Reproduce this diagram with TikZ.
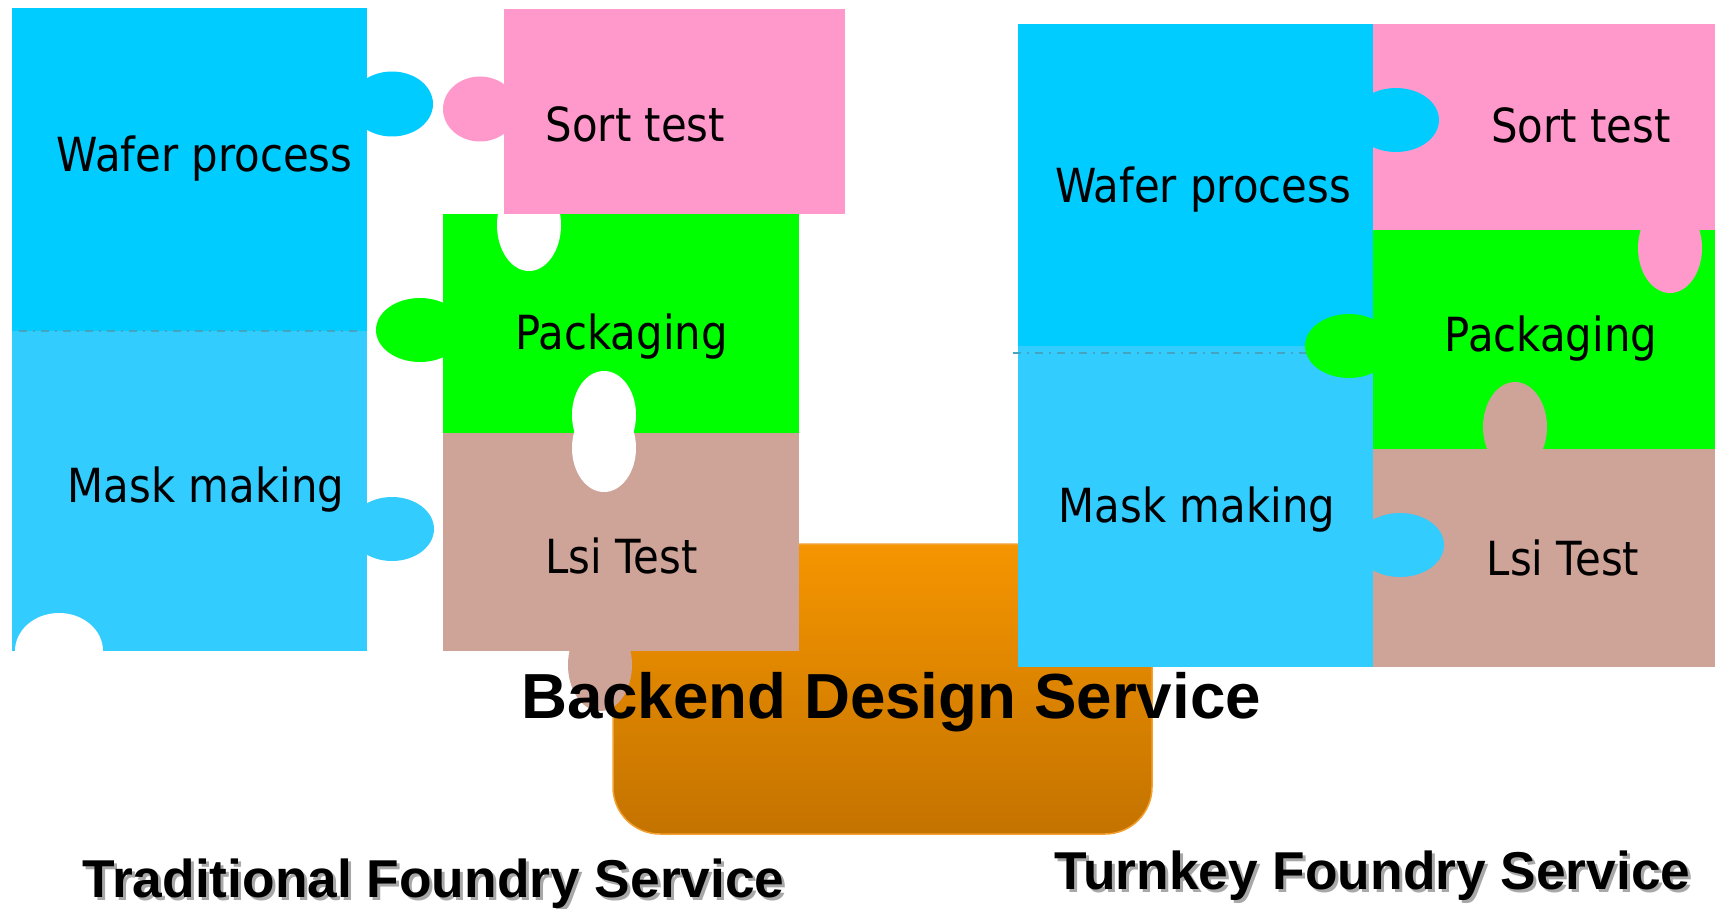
\documentclass[tikz,border=0pt]{standalone}
\usepackage{fontspec}
\newfontfamily\tahf[FakeStretch=0.89]{DejaVu Sans}
\newfontfamily\arialf{Liberation Sans}
\definecolor{waferc}{HTML}{00CCFF}
\definecolor{maskc}{HTML}{33CCFF}
\definecolor{pinkc}{HTML}{FF99CC}
\definecolor{greenc}{HTML}{00FF00}
\definecolor{brownc}{HTML}{CEA398}
\definecolor{orangetop}{HTML}{F59500}
\definecolor{orangebot}{HTML}{C47300}
\definecolor{orangeedge}{HTML}{F2A030}
\definecolor{dashc}{HTML}{45A5C0}
\definecolor{shadowc}{HTML}{A8A8A8}
\begin{document}
\begin{tikzpicture}[x=1pt,y=-1pt,
  lbl/.style={font=\tahf\fontsize{47}{50}\selectfont, anchor=base, inner sep=0pt, text=black},
  bigbold/.style={font=\arialf\bfseries\fontsize{63.7}{66}\selectfont, anchor=base, inner sep=0pt, text=black},
  title/.style={font=\arialf\bfseries\fontsize{53.3}{56}\selectfont, anchor=base, inner sep=0pt},
  seam/.style={draw=dashc, line width=2pt, dash pattern=on 8pt off 5.5pt on 2pt off 6.5pt}]
\useasboundingbox (0,0) rectangle (1715,909);
\fill[white] (0,0) rectangle (1715,909);

% Backend design box
\shade[top color=orangetop, bottom color=orangebot, rounded corners=47pt]
  (613,544) rectangle (1152,834);
\draw[orangeedge, line width=1.5pt, rounded corners=47pt]
  (613,544) rectangle (1152,834);

% ===== Traditional foundry (left) =====
\fill[waferc] (12,8) rectangle (367,331);
\fill[waferc] (392,104) ellipse [x radius=41, y radius=32.5];
\fill[maskc] (12,331) rectangle (367,651);
\fill[maskc] (392,529) ellipse [x radius=42, y radius=32];
\fill[white] (59,651) ellipse [x radius=44, y radius=38];
\draw[seam] (19,331) -- (360,331);

\fill[greenc] (443,214) rectangle (799,433);
\fill[greenc] (420,330) ellipse [x radius=44, y radius=32];
\fill[white] (529,225) ellipse [x radius=32, y radius=46];

\fill[pinkc] (504,9) rectangle (845,214);
\fill[pinkc] (480,109) ellipse [x radius=37, y radius=32.5];

\fill[brownc] (443,433) rectangle (799,651);
\fill[brownc] (600,665) ellipse [x radius=32, y radius=46];
\fill[white] (604,415) ellipse [x radius=32, y radius=44];
\fill[white] (604,448) ellipse [x radius=32, y radius=44];

% ===== Turnkey foundry (right) =====
\fill[waferc] (1018,24) rectangle (1373,346);
\fill[maskc] (1018,346) rectangle (1373,667);
\draw[seam] (1013,353) -- (1373,353);
\fill[pinkc] (1373,24) rectangle (1715,230);
\fill[waferc] (1396,120) ellipse [x radius=43, y radius=32];
\fill[greenc] (1373,230) rectangle (1715,449);
\fill[pinkc] (1670,248) ellipse [x radius=32, y radius=45];
\fill[greenc] (1349,346) ellipse [x radius=44, y radius=32];
\fill[brownc] (1373,449) rectangle (1715,667);
\fill[brownc] (1515,427) ellipse [x radius=32, y radius=45];
\fill[maskc] (1400,545) ellipse [x radius=44, y radius=32];

% ===== Labels =====
\node[lbl] (lwafer) at (204.5,172) {Wafer process};
\node[lbl] (lsort) at (635.5,142) {Sort test};
\node[lbl] (lpack) at (621.5,349) {Packaging};
\node[lbl] (lmask) at (206,502) {Mask making};
\node[lbl] (llsi) at (621.5,573) {Lsi Test};

\node[lbl] (rwafer) at (1203,203) {Wafer process};
\node[lbl] (rsort) at (1581,143) {Sort test};
\node[lbl] (rpack) at (1551,351) {Packaging};
\node[lbl] (rmask) at (1197,522) {Mask making};
\node[lbl] (rlsi) at (1563,575) {Lsi Test};

\node[bigbold] (backend) at (891,718) {Backend Design Service};

\node[title, text=shadowc] (tradshadow) at (436.5,900) {Traditional Foundry Service};
\node[title, text=black] (trad) at (433.5,897) {Traditional Foundry Service};
\node[title, text=shadowc] (turnshadow) at (1375.5,892) {Turnkey Foundry Service};
\node[title, text=black] (turn) at (1372.5,889) {Turnkey Foundry Service};
\end{tikzpicture}
\end{document}
